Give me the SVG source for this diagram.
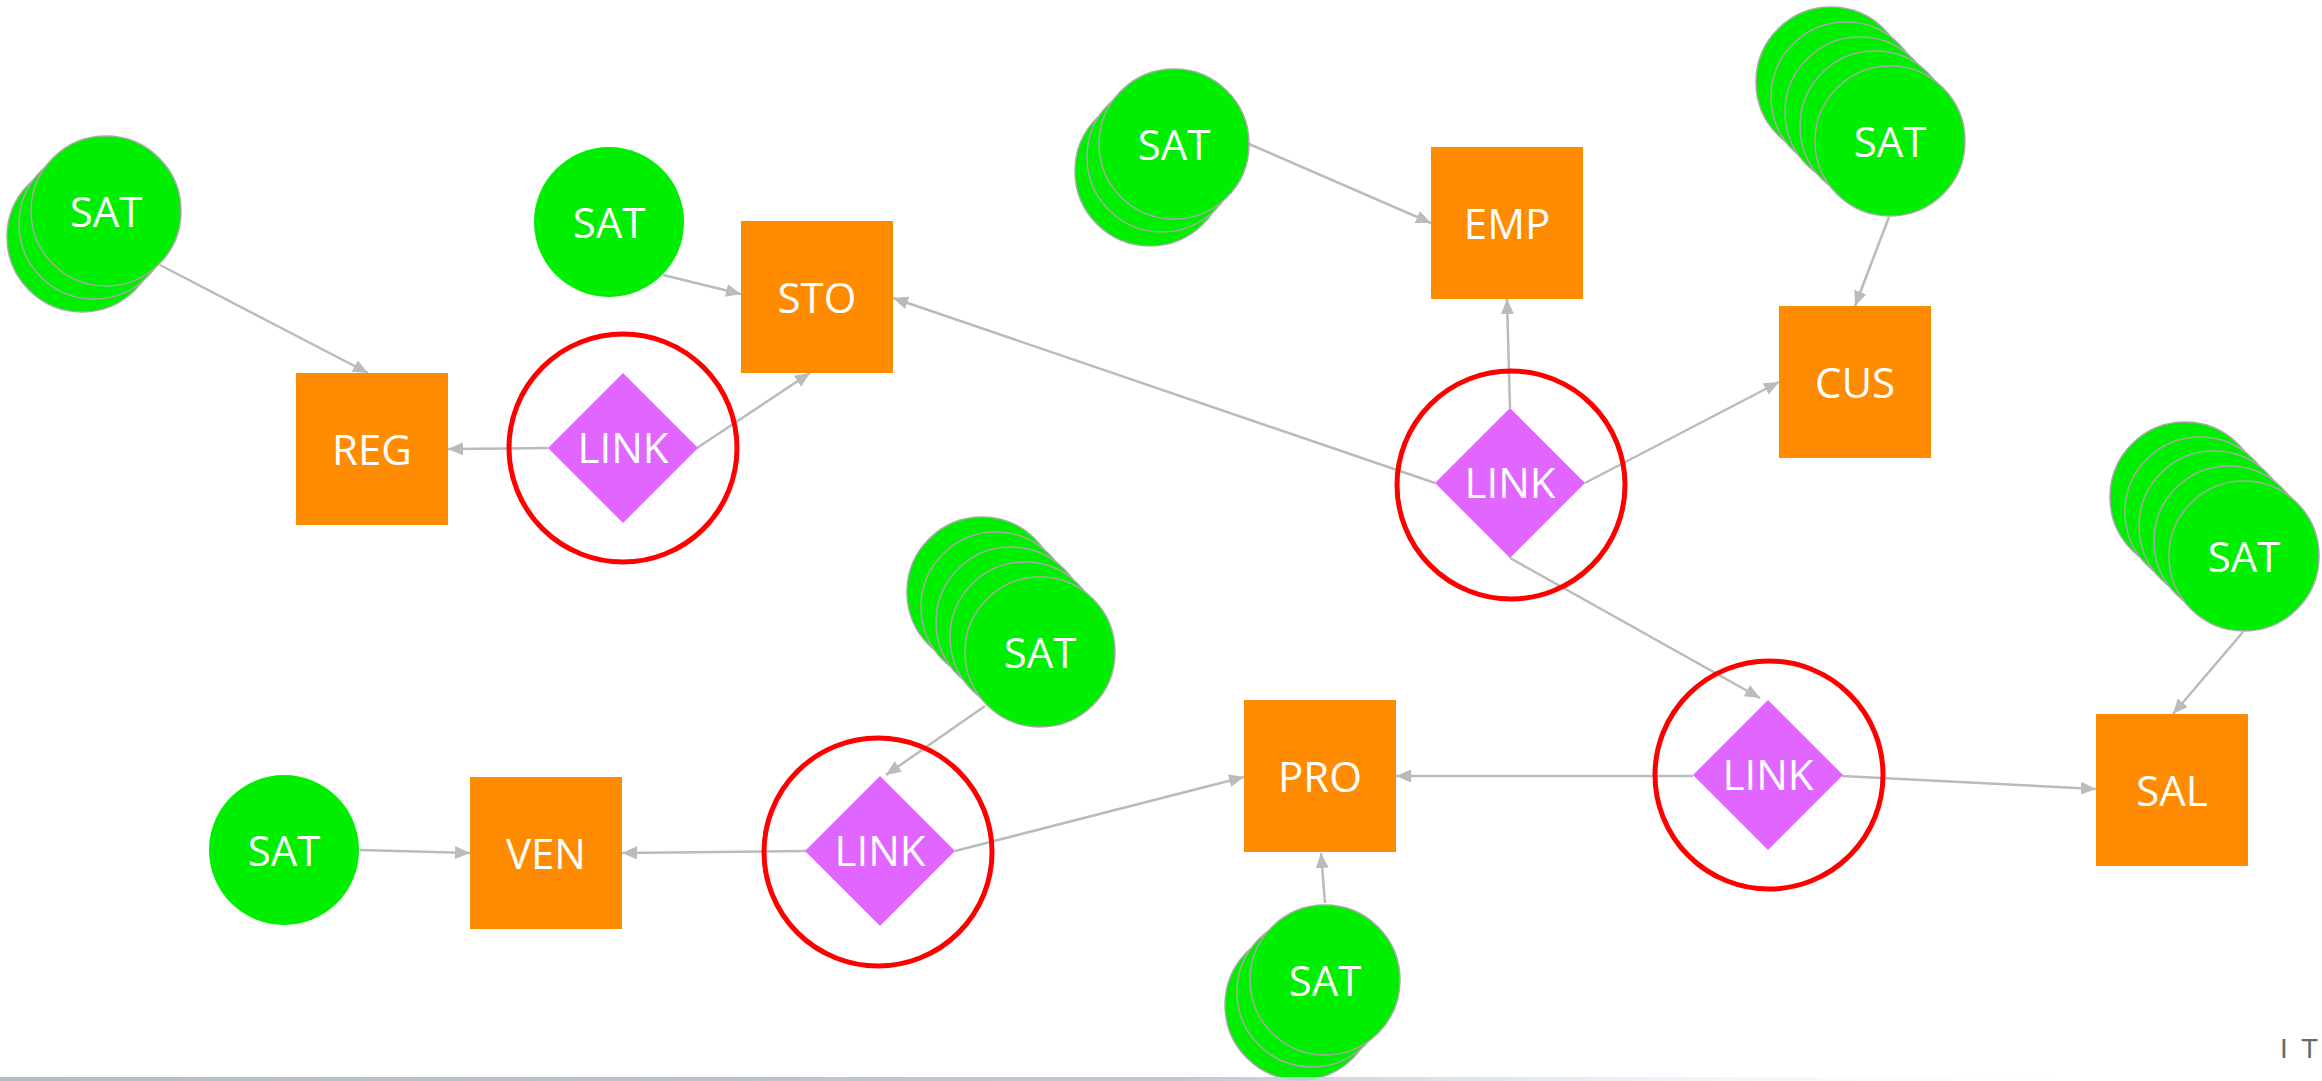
<svg xmlns="http://www.w3.org/2000/svg" width="2322" height="1081" viewBox="0 0 2322 1081">
<style>
.hub{fill:#FF8C00}
.sat{fill:#00EE00}
.stk{fill:#00EE00;stroke:#A8A8A8;stroke-width:1.5}
.dia{fill:#E066FF}
.ring{fill:none;stroke:#FF0000;stroke-width:5}
.lbl{font-family:"Open Sans","Noto Sans","DejaVu Sans",sans-serif;font-size:42px;fill:#FFFFFF;text-anchor:middle}
.edge{stroke:#BBBBBB;stroke-width:2.5;fill:none;marker-end:url(#ah)}
</style>
<defs>
<marker id="ah" markerUnits="userSpaceOnUse" markerWidth="16" markerHeight="14" refX="15" refY="6.5" orient="auto">
<path d="M0,0 L15,6.5 L0,13 z" fill="#BBBBBB"/>
</marker>
<linearGradient id="band" x1="0" y1="0" x2="1" y2="0">
<stop offset="0" stop-color="#B3BCCB"/>
<stop offset="0.55" stop-color="#BFC7D4"/>
<stop offset="1" stop-color="#FFFFFF" stop-opacity="0"/>
</linearGradient>
</defs>
<rect width="2322" height="1081" fill="#FFFFFF"/>

<g id="connectors">
<line class="edge" x1="160" y1="265" x2="368" y2="373"/>
<line class="edge" x1="663" y1="275" x2="741" y2="294"/>
<line class="edge" x1="548" y1="448" x2="448" y2="449"/>
<line class="edge" x1="697" y1="448" x2="810" y2="373"/>
<line class="edge" x1="1249" y1="144" x2="1431" y2="223"/>
<line class="edge" x1="1510" y1="408" x2="1507" y2="299"/>
<line class="edge" x1="1435" y1="483" x2="893" y2="298"/>
<line class="edge" x1="1585" y1="483" x2="1779" y2="382"/>
<line class="edge" x1="1889" y1="217" x2="1855" y2="306"/>
<line class="edge" x1="1510" y1="558" x2="1760" y2="698"/>
<line class="edge" x1="2243" y1="632" x2="2173" y2="714"/>
<line class="edge" x1="1693" y1="776" x2="1396" y2="776"/>
<line class="edge" x1="1842" y1="776" x2="2096" y2="789"/>
<line class="edge" x1="985" y1="706" x2="886" y2="775"/>
<line class="edge" x1="806" y1="851" x2="622" y2="853"/>
<line class="edge" x1="360" y1="850" x2="470" y2="853"/>
<line class="edge" x1="955" y1="851" x2="1244" y2="777"/>
<line class="edge" x1="1325" y1="903" x2="1321" y2="853"/>
</g>

<g id="reg"><rect class="hub" x="296" y="373" width="152" height="152"/><text class="lbl" x="372" y="465">REG</text></g>
<g id="sto"><rect class="hub" x="741" y="221" width="152" height="152"/><text class="lbl" x="817" y="313">STO</text></g>
<g id="emp"><rect class="hub" x="1431" y="147" width="152" height="152"/><text class="lbl" x="1507" y="239">EMP</text></g>
<g id="cus"><rect class="hub" x="1779" y="306" width="152" height="152"/><text class="lbl" x="1855" y="398">CUS</text></g>
<g id="sal"><rect class="hub" x="2096" y="714" width="152" height="152"/><text class="lbl" x="2172" y="806">SAL</text></g>
<g id="pro"><rect class="hub" x="1244" y="700" width="152" height="152"/><text class="lbl" x="1320" y="792">PRO</text></g>
<g id="ven"><rect class="hub" x="470" y="777" width="152" height="152"/><text class="lbl" x="546" y="869">VEN</text></g>

<g id="link1"><circle class="ring" cx="623" cy="448" r="114"/><polygon class="dia" points="623,373 698,448 623,523 548,448"/><text class="lbl" x="623" y="463">LINK</text></g>
<g id="link2"><circle class="ring" cx="1511" cy="485" r="114"/><polygon class="dia" points="1510,408 1585,483 1510,558 1435,483"/><text class="lbl" x="1510" y="498">LINK</text></g>
<g id="link3"><circle class="ring" cx="1769" cy="775" r="114"/><polygon class="dia" points="1768,700 1843,775 1768,850 1693,775"/><text class="lbl" x="1768" y="790">LINK</text></g>
<g id="link4"><circle class="ring" cx="878" cy="852" r="114"/><polygon class="dia" points="880,776 955,851 880,926 805,851"/><text class="lbl" x="880" y="866">LINK</text></g>

<g id="sat-reg">
<circle class="stk" cx="82" cy="237" r="75"/>
<circle class="stk" cx="94" cy="224" r="75"/>
<circle class="stk" cx="106" cy="211" r="75"/>
<text class="lbl" x="106" y="227">SAT</text>
</g>
<g id="sat-sto"><circle class="sat" cx="609" cy="222" r="75"/><text class="lbl" x="609" y="238">SAT</text></g>
<g id="sat-emp">
<circle class="stk" cx="1150" cy="171" r="75"/>
<circle class="stk" cx="1162" cy="157" r="75"/>
<circle class="stk" cx="1174" cy="144" r="75"/>
<text class="lbl" x="1174" y="160">SAT</text>
</g>
<g id="sat-cus">
<circle class="stk" cx="1831" cy="82" r="75"/>
<circle class="stk" cx="1846" cy="97" r="75"/>
<circle class="stk" cx="1860" cy="112" r="75"/>
<circle class="stk" cx="1875" cy="126" r="75"/>
<circle class="stk" cx="1890" cy="141" r="75"/>
<text class="lbl" x="1890" y="157">SAT</text>
</g>
<g id="sat-sal">
<circle class="stk" cx="2185" cy="497" r="75"/>
<circle class="stk" cx="2200" cy="512" r="75"/>
<circle class="stk" cx="2214" cy="526" r="75"/>
<circle class="stk" cx="2229" cy="541" r="75"/>
<circle class="stk" cx="2244" cy="556" r="75"/>
<text class="lbl" x="2244" y="572">SAT</text>
</g>
<g id="sat-link4">
<circle class="stk" cx="982" cy="592" r="75"/>
<circle class="stk" cx="996" cy="607" r="75"/>
<circle class="stk" cx="1011" cy="622" r="75"/>
<circle class="stk" cx="1025" cy="637" r="75"/>
<circle class="stk" cx="1040" cy="652" r="75"/>
<text class="lbl" x="1040" y="668">SAT</text>
</g>
<g id="sat-ven"><circle class="sat" cx="284" cy="850" r="75"/><text class="lbl" x="284" y="866">SAT</text></g>
<g id="sat-pro">
<circle class="stk" cx="1300" cy="1005" r="75"/>
<circle class="stk" cx="1312" cy="992" r="75"/>
<circle class="stk" cx="1325" cy="980" r="75"/>
<text class="lbl" x="1325" y="996">SAT</text>
</g>

<rect x="0" y="1077" width="2140" height="4" fill="url(#band)"/>
<text x="2280" y="1058" font-family="Liberation Sans, Arial, sans-serif" font-size="28" letter-spacing="3" fill="#5F6E6B">I T</text>
</svg>
